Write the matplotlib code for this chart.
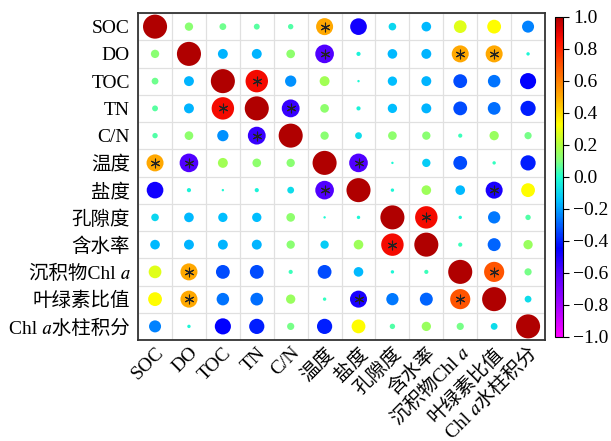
import matplotlib
matplotlib.use("Agg")
import matplotlib.pyplot as plt
import numpy as np
from matplotlib.colors import LinearSegmentedColormap

plt.rcParams['font.family'] = ['Liberation Serif', 'Noto Sans CJK SC', 'STIXGeneral', 'DejaVu Serif']

labels = ['SOC', 'DO', 'TOC', 'TN', 'C/N', '温度', '盐度', '孔隙度', '含水率',
          '沉积物Chl \U0001D44E', '叶绿素比值', 'Chl \U0001D44E水柱积分']

corr = np.array([
    [1.00, 0.12, 0.08, 0.06, 0.05, 0.50, -0.48, -0.10, -0.16, 0.28, 0.33, -0.25],
    [0.12, 1.00, -0.17, -0.17, 0.13, -0.60, -0.03, -0.16, -0.17, 0.50, 0.50, -0.02],
    [0.08, -0.17, 1.00, 0.87, -0.22, 0.17, -0.01, -0.15, -0.17, -0.33, -0.27, -0.45],
    [0.06, -0.17, 0.87, 1.00, -0.55, 0.13, -0.03, -0.15, -0.17, -0.33, -0.28, -0.40],
    [0.05, 0.13, -0.22, -0.55, 1.00, 0.12, -0.08, 0.13, 0.12, 0.03, 0.15, 0.09],
    [0.50, -0.60, 0.17, 0.13, 0.12, 1.00, -0.60, -0.01, -0.12, -0.33, 0.02, -0.40],
    [-0.48, -0.03, -0.01, -0.03, -0.08, -0.60, 1.00, -0.02, 0.16, -0.16, -0.50, 0.33],
    [-0.10, -0.16, -0.15, -0.15, 0.13, -0.01, -0.02, 1.00, 0.87, -0.02, -0.26, 0.05],
    [-0.16, -0.17, -0.17, -0.17, 0.12, -0.12, 0.16, 0.87, 1.00, 0.03, -0.29, 0.15],
    [0.28, 0.50, -0.33, -0.33, 0.03, -0.33, -0.16, -0.02, 0.03, 1.00, 0.70, 0.09],
    [0.33, 0.50, -0.27, -0.28, 0.15, 0.02, -0.50, -0.26, -0.29, 0.70, 1.00, -0.08],
    [-0.25, -0.02, -0.45, -0.40, 0.09, -0.40, 0.33, 0.05, 0.15, 0.09, -0.08, 1.00],
])

# significant pairs (upper triangle), mirrored below
sig_pairs = [(0, 5), (1, 5), (1, 9), (1, 10), (2, 3), (3, 4),
             (5, 6), (6, 10), (7, 8), (9, 10)]

cmap = LinearSegmentedColormap.from_list('corr', [
    (0.0, '#FF00FF'), (0.1, '#A000FF'), (0.2, '#5000FF'), (0.275, '#0000FF'),
    (0.35, '#0060FF'), (0.425, '#00C0FF'), (0.5, '#20FFD0'), (0.55, '#80FF80'),
    (0.6, '#B0FF40'), (0.665, '#FFFF00'), (0.75, '#FFAA00'), (0.85, '#FF5500'),
    (0.925, '#FF1000'), (0.96, '#E00000'), (1.0, '#B00000')])

n = len(labels)
fig = plt.figure(figsize=(6.11, 4.41), dpi=100)
ax = fig.add_axes([0.226, 0.229, 0.666, 0.7415])
cax = fig.add_axes([0.908, 0.236, 0.0131, 0.7256])

yy, xx = np.mgrid[0:n, 0:n]
sc = ax.scatter(xx.ravel(), yy.ravel(), s=300 * np.abs(corr.ravel()),
                c=corr.ravel(), cmap=cmap, vmin=-1, vmax=1,
                linewidths=0, zorder=3)

sx, sy = [], []
for i, j in sig_pairs:
    sx += [j, i]
    sy += [i, j]
ax.scatter(sx, sy, marker=(6, 2, 0), s=40, color='#222222', linewidths=0.8, zorder=4)

ax.set_xlim(-0.5, n - 0.5)
ax.set_ylim(n - 0.5, -0.5)
ax.set_xticks(range(n))
ax.set_yticks(range(n))
ax.set_xticklabels(labels, rotation=45, ha='right', va='top', rotation_mode='anchor', fontsize=14)
ax.set_yticklabels(labels, fontsize=14)
ax.tick_params(axis='both', length=0)
ax.tick_params(axis='x', pad=3)
ax.tick_params(axis='y', pad=6)
ax.set_xticks(np.arange(-0.5, n, 1), minor=True)
ax.set_yticks(np.arange(-0.5, n, 1), minor=True)
ax.tick_params(which='minor', length=0)
ax.grid(which='minor', color='#e0e0e0', linewidth=0.9, zorder=0)
ax.grid(which='major', visible=False)
for sp in ax.spines.values():
    sp.set_color('#333333')
    sp.set_linewidth(1.3)

cb = fig.colorbar(sc, cax=cax, ticks=np.arange(-1, 1.01, 0.2))
cb.ax.tick_params(labelsize=14, length=4, width=0.8)
cb.outline.set_linewidth(0.8)

fig.savefig('out.png', dpi=100)
